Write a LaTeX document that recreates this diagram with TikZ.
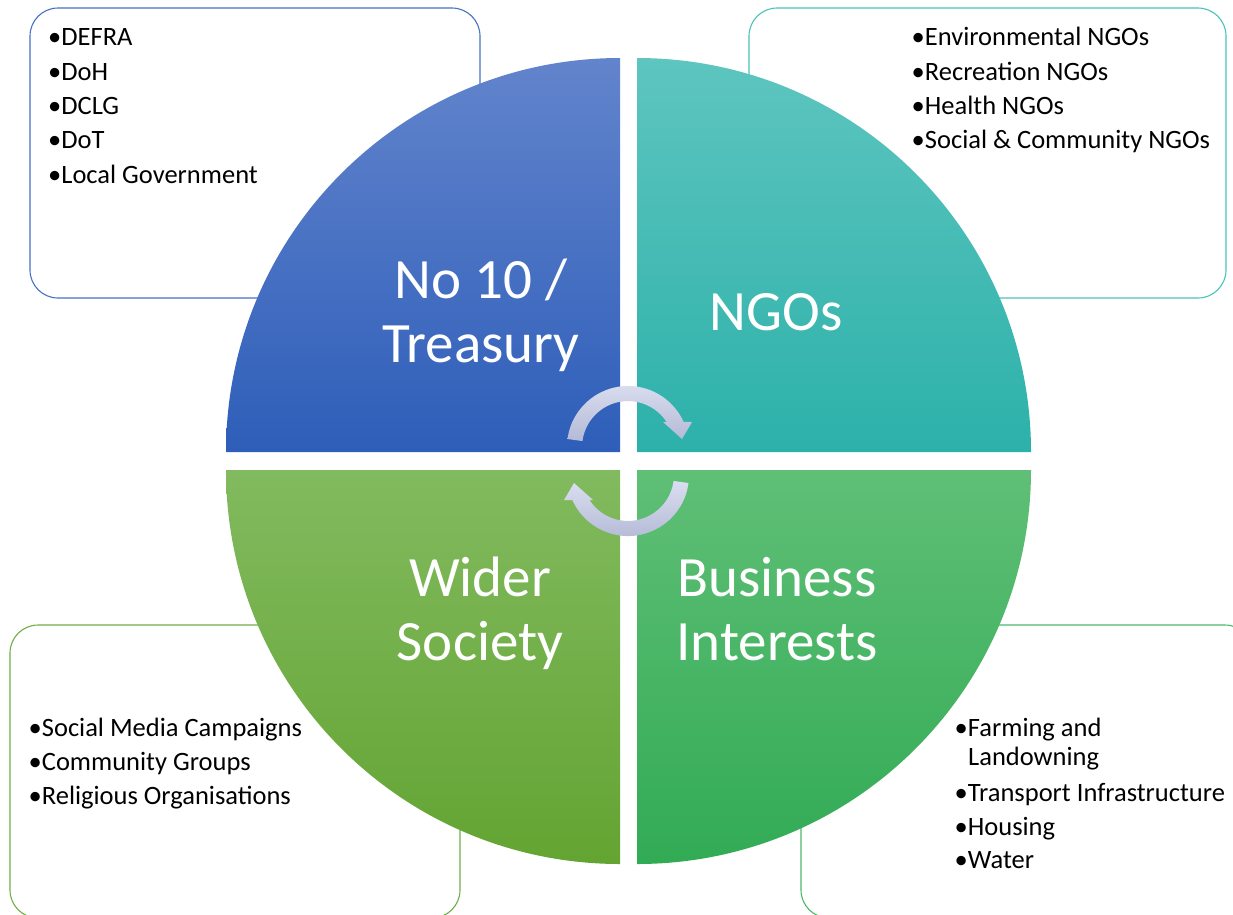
\documentclass[tikz,border=0pt]{standalone}
\usepackage{fontspec}
\setmainfont{Carlito}
\definecolor{govtop}{RGB}{98,132,204}
\definecolor{govbot}{RGB}{46,94,185}
\definecolor{ngotop}{RGB}{94,197,191}
\definecolor{ngobot}{RGB}{44,177,170}
\definecolor{soctop}{RGB}{130,186,95}
\definecolor{socbot}{RGB}{99,164,50}
\definecolor{bustop}{RGB}{95,191,118}
\definecolor{busbot}{RGB}{50,171,85}
\definecolor{govline}{RGB}{68,114,196}
\definecolor{ngoline}{RGB}{75,195,188}
\definecolor{socline}{RGB}{112,173,71}
\definecolor{busline}{RGB}{77,184,106}
\definecolor{arrtop}{RGB}{218,222,240}
\definecolor{arrbot}{RGB}{180,186,214}
\begin{document}
\begin{tikzpicture}[x=1pt,y=1pt,
	box/.style={draw=#1,line width=1.1pt,fill=white,rounded corners=28pt},
	item/.style={anchor=base west,inner sep=0pt,font=\fontsize{26.5}{29}\selectfont},
	title/.style={text=white,inner sep=0pt,align=center,font=\fontsize{57}{64}\selectfont},
	turn/.style={top color=arrtop,bottom color=arrbot}]
	\def\R{394pt} % radius of the quarters
	\useasboundingbox (0,0) rectangle (1233,-914);
	% boxes behind
	\draw[box=govline] (30,-8) rectangle (480,-298);
	\draw[box=ngoline] (749,-8) rectangle (1226,-298);
	\draw[box=socline] (10,-625) rectangle (460,-918);
	\draw[box=busline] (801,-625) rectangle (1253,-918);
	% quarters
	\shade[top color=govtop,bottom color=govbot] (620,-452) -- (226,-452) arc[start angle=180,end angle=90,radius=\R] -- cycle;
	\shade[top color=ngotop,bottom color=ngobot] (637,-452) -- (637,-58) arc[start angle=90,end angle=0,radius=\R] -- cycle;
	\shade[top color=soctop,bottom color=socbot] (620,-470) -- (226,-470) arc[start angle=180,end angle=270,radius=\R] -- cycle;
	\shade[top color=bustop,bottom color=busbot] (637,-470) -- (1031,-470) arc[start angle=0,end angle=-90,radius=\R] -- cycle;
	\node[title] (gov) at (481,-317.2) {\strut No 10 /\\\strut Treasury};
	\node[title,anchor=base] (ngo) at (776,-330) {NGOs};
	\node[title] (soc) at (480,-615.7) {\strut Wider\\\strut Society};
	\node[title] (bus) at (777,-615.7) {\strut Business\\\strut Interests};
	% turning arrows
	\shade[turn] (567.5,-439) arc[start angle=172.5,end angle=24.2,radius=61pt] -- (692,-422) -- (682,-439) -- (663,-422) -- (666.6,-422) arc[start angle=33,end angle=172.5,radius=46pt] -- cycle;
	\shade[turn] (688.5,-483) arc[start angle=352.5,end angle=204.2,radius=61pt] -- (564,-500) -- (574,-483) -- (593,-500) -- (589.4,-500) arc[start angle=213,end angle=352.5,radius=46pt] -- cycle;
	% lists
	\foreach \t [count=\i] in {DEFRA,DoH,DCLG,DoT,Local Government}
		\node[item] (gov\i) at (48,{-45.7-34.4*(\i-1)}) {•\t};
	\foreach \t [count=\i] in {Environmental NGOs,Recreation NGOs,Health NGOs,Social \& Community NGOs}
		\node[item] (ngo\i) at (911.5,{-45.7-34.4*(\i-1)}) {•\t};
	\foreach \t [count=\i] in {Social Media Campaigns,Community Groups,Religious Organisations}
		\node[item] (soc\i) at (28.5,{-736.7-33.7*(\i-1)}) {•\t};
	\node[item] (bus1) at (954.5,-736.7) {•Farming and};
	\node[item] (bus1b) at (968,-765.7) {Landowning};
	\node[item] (bus2) at (954.5,-801) {•Transport Infrastructure};
	\node[item] (bus3) at (954.5,-835) {•Housing};
	\node[item] (bus4) at (954.5,-868) {•Water};
\end{tikzpicture}
\end{document}
